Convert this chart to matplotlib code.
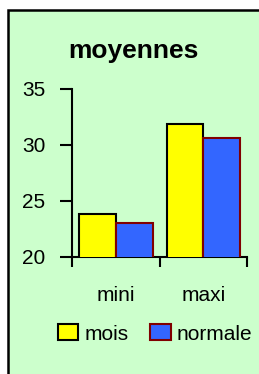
import matplotlib.pyplot as plt
from matplotlib.patches import Rectangle, Patch

categories = ['mini', 'maxi']
mois = [23.8, 31.9]
normale = [23.0, 30.6]
yticks = [20, 25, 30, 35]

plt.rcParams['font.family'] = ['Liberation Sans', 'DejaVu Sans']

W, H = 259, 374
fig = plt.figure(figsize=(W / 100, H / 100), dpi=100)
fig.patch.set_facecolor('white')

# green chart area
bg = Rectangle((8 / W, -0.05), 1.1, 1 - 10 / H + 0.05, transform=fig.transFigure,
               facecolor='#CCFFCC', edgecolor='black', linewidth=1.8, zorder=-5)
fig.patches.append(bg)

ax = fig.add_axes([72 / W, 1 - 257 / H, 175 / W, 168 / H])
ax.set_zorder(2)
ax.patch.set_visible(False)

x = [0, 1]
w = 0.42
ax.bar([i - w / 2 for i in x], mois, width=w, color='#FFFF00',
       edgecolor='black', linewidth=1.5, zorder=3)
ax.bar([i + w / 2 for i in x], normale, width=w, color='#3366FF',
       edgecolor='#800000', linewidth=1.5, zorder=3)

ax.set_xlim(-0.5, 1.5)
ax.set_ylim(20, 35)
ax.set_yticks(yticks)
ax.set_xticks([-0.5, 0.5, 1.5])
ax.set_xticklabels([])
ax.tick_params(axis='y', direction='out', length=9, width=1.5, labelsize=15, pad=10)
ax.tick_params(axis='x', direction='out', length=7, width=1.5)
for s in ['top', 'right']:
    ax.spines[s].set_visible(False)
for s in ['left', 'bottom']:
    ax.spines[s].set_linewidth(1.5)

for i, c in enumerate(categories):
    ax.text(i, -0.17, c, transform=ax.get_xaxis_transform(), ha='center',
            va='top', fontsize=15)

fig.text(133 / W, 1 - 51 / H, 'moyennes', ha='center', va='center',
         fontsize=19, fontweight='bold')

handles = [Patch(facecolor='#FFFF00', edgecolor='black', linewidth=1.5, label='mois'),
           Patch(facecolor='#3366FF', edgecolor='#800000', linewidth=1.5, label='normale')]
fig.legend(handles=handles, loc='center', bbox_to_anchor=(155 / W, 1 - 334 / H),
           ncol=2, frameon=False, fontsize=15, handlelength=1.0, handleheight=0.8,
           handletextpad=0.3, columnspacing=1.0, borderpad=0)

fig.savefig('out.png', dpi=100)
